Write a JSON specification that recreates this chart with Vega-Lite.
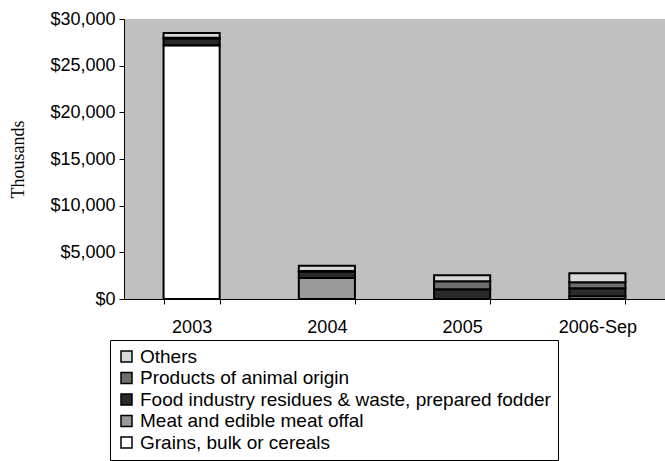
{
  "$schema": "https://vega.github.io/schema/vega-lite/v6.json",
  "width": 541,
  "height": 280,
  "autosize": {"type": "none"},
  "padding": {"left": 124, "top": 19, "right": 0, "bottom": 162},
  "background": "white",
  "config": {
    "view": {"fill": "#C0C0C0", "stroke": null},
    "font": "Liberation Sans"
  },
  "data": {
    "values": [
      {"year": "2003", "category": "Grains, bulk or cereals", "o": 1, "value": 27200},
      {"year": "2003", "category": "Meat and edible meat offal", "o": 2, "value": 0},
      {"year": "2003", "category": "Food industry residues & waste, prepared fodder", "o": 3, "value": 700},
      {"year": "2003", "category": "Products of animal origin", "o": 4, "value": 100},
      {"year": "2003", "category": "Others", "o": 5, "value": 500},
      {"year": "2004", "category": "Grains, bulk or cereals", "o": 1, "value": 0},
      {"year": "2004", "category": "Meat and edible meat offal", "o": 2, "value": 2250},
      {"year": "2004", "category": "Food industry residues & waste, prepared fodder", "o": 3, "value": 700},
      {"year": "2004", "category": "Products of animal origin", "o": 4, "value": 50},
      {"year": "2004", "category": "Others", "o": 5, "value": 550},
      {"year": "2005", "category": "Grains, bulk or cereals", "o": 1, "value": 0},
      {"year": "2005", "category": "Meat and edible meat offal", "o": 2, "value": 0},
      {"year": "2005", "category": "Food industry residues & waste, prepared fodder", "o": 3, "value": 1050},
      {"year": "2005", "category": "Products of animal origin", "o": 4, "value": 850},
      {"year": "2005", "category": "Others", "o": 5, "value": 650},
      {"year": "2006-Sep", "category": "Grains, bulk or cereals", "o": 1, "value": 300},
      {"year": "2006-Sep", "category": "Meat and edible meat offal", "o": 2, "value": 0},
      {"year": "2006-Sep", "category": "Food industry residues & waste, prepared fodder", "o": 3, "value": 850},
      {"year": "2006-Sep", "category": "Products of animal origin", "o": 4, "value": 650},
      {"year": "2006-Sep", "category": "Others", "o": 5, "value": 950}
    ]
  },
  "mark": {"type": "bar", "stroke": "black", "strokeWidth": 2},
  "encoding": {
    "x": {
      "field": "year",
      "type": "nominal",
      "sort": ["2003", "2004", "2005", "2006-Sep"],
      "scale": {"paddingInner": 0.585, "paddingOuter": 0.2925},
      "axis": {
        "title": null,
        "labelAngle": 0,
        "labelFontSize": 18,
        "labelColor": "black",
        "labelPadding": 14,
        "domainColor": "black",
        "tickColor": "black",
        "tickSize": 5,
        "tickBand": "extent"
      }
    },
    "y": {
      "field": "value",
      "type": "quantitative",
      "stack": "zero",
      "scale": {"domain": [0, 30000], "nice": false},
      "axis": {
        "title": "Thousands",
        "titleFont": "Liberation Serif",
        "titleFontWeight": "normal",
        "titleFontSize": 18,
        "titleColor": "black",
        "titlePadding": 22,
        "values": [0, 5000, 10000, 15000, 20000, 25000, 30000],
        "format": "$,.0f",
        "labelFontSize": 18,
        "labelColor": "black",
        "labelPadding": 4,
        "grid": false,
        "domainColor": "black",
        "tickColor": "black",
        "tickSize": 5
      }
    },
    "color": {
      "field": "category",
      "type": "nominal",
      "scale": {
        "domain": ["Others", "Products of animal origin", "Food industry residues & waste, prepared fodder", "Meat and edible meat offal", "Grains, bulk or cereals"],
        "range": ["#d9d9d9", "#6e6e6e", "#2a2a2a", "#9a9a9a", "#ffffff"]
      },
      "legend": {
        "title": null,
        "orient": "none",
        "legendX": -14,
        "legendY": 321,
        "direction": "vertical",
        "fillColor": "white",
        "strokeColor": "black",
        "padding": 7,
        "symbolType": "square",
        "symbolSize": 121,
        "symbolStrokeColor": "black",
        "symbolStrokeWidth": 1.5,
        "labelFontSize": 19,
        "labelColor": "black",
        "labelOffset": 4,
        "labelLimit": 0,
        "rowPadding": 1.5
      }
    },
    "order": {"field": "o", "type": "quantitative", "sort": "ascending"}
  }
}
